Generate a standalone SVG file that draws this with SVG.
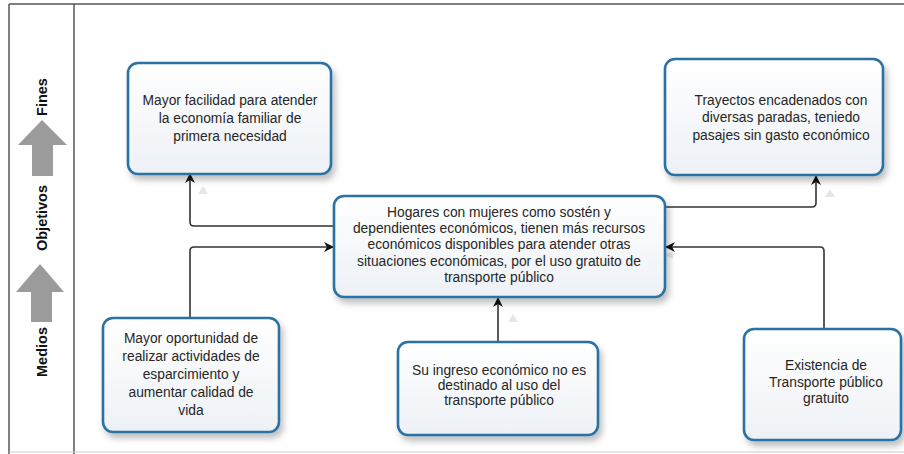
<svg xmlns="http://www.w3.org/2000/svg" width="904" height="454" viewBox="0 0 904 454">
<defs>
<style>
.box{fill:url(#g);stroke:#2b72a3;stroke-width:2.6;filter:url(#sh)}
.t{font-family:"Liberation Sans",Arial,sans-serif;font-size:13.8px;fill:#262626;text-anchor:middle}
.side{font-family:"Liberation Sans",Arial,sans-serif;font-size:14.5px;font-weight:bold;fill:#111;text-anchor:middle}
.c{fill:none;stroke:#333;stroke-width:1.6}
.ghost{fill:#e3e7ec}
.big{fill:#9b9b9b}
</style>
<linearGradient id="g" x1="0" y1="0" x2="0" y2="1">
<stop offset="0" stop-color="#ffffff"/>
<stop offset="1" stop-color="#edf1f6"/>
</linearGradient>
<filter id="sh" x="-10%" y="-10%" width="125%" height="135%">
<feDropShadow dx="3" dy="5" stdDeviation="3" flood-color="#000" flood-opacity="0.25"/>
</filter>
<marker id="ah" viewBox="0 0 10 10" refX="9" refY="5" markerWidth="10" markerHeight="10" markerUnits="userSpaceOnUse" orient="auto">
<path d="M0,0 L10,5 L0,10 L3,5 Z" fill="#111"/>
</marker>
</defs>
<rect width="904" height="454" fill="#fff"/>
<g id="frame">
<line x1="9" y1="4" x2="904" y2="4" stroke="#555" stroke-width="1.5"/>
<line x1="9" y1="4" x2="9" y2="454" stroke="#555" stroke-width="1.5"/>
<line x1="74" y1="4" x2="74" y2="454" stroke="#555" stroke-width="1.5"/>
<line x1="9" y1="452" x2="904" y2="452" stroke="#ccc" stroke-width="1"/>
</g>
<g id="side">
<text class="side" transform="translate(47,97) rotate(-90)">Fines</text>
<polygon class="big" points="42,120 67,145 53,145 53,176 32,176 32,145 18,145"/>
<text class="side" transform="translate(47,218) rotate(-90)">Objetivos</text>
<polygon class="big" points="40,264 64,292 52,292 52,322 31,322 31,292 16,292"/>
<text class="side" transform="translate(47,352) rotate(-90)">Medios</text>
</g>
<g id="connectors">
<polygon class="ghost" points="203,186 208,194 198,194"/>
<polygon class="ghost" points="830,189 835,197 825,197"/>
<polygon class="ghost" points="513,314 518,322 508,322"/>
<polygon class="ghost" points="665,255 673,251 673,259"/>
<path class="c" d="M334,226 H194 Q190,226 190,222 V174" marker-end="url(#ah)"/>
<path class="c" d="M190,318 V251 Q190,247 194,247 H333" marker-end="url(#ah)"/>
<path class="c" d="M665,207 H812 Q816,207 816,203 V176" marker-end="url(#ah)"/>
<path class="c" d="M824,329 V251 Q824,247 820,247 H666" marker-end="url(#ah)"/>
<path class="c" d="M498,342 V298" marker-end="url(#ah)"/>
</g>
<g id="n1">
<rect class="box" x="128" y="63" width="203" height="111" rx="10"/>
<text class="t" x="230" y="105">Mayor facilidad para atender</text>
<text class="t" x="230" y="123">la economía familiar de</text>
<text class="t" x="230" y="141">primera necesidad</text>
</g>
<g id="n2">
<rect class="box" x="665" y="59" width="218" height="116" rx="10"/>
<text class="t" x="781" y="105">Trayectos encadenados con</text>
<text class="t" x="781" y="122">diversas paradas, teniedo</text>
<text class="t" x="781" y="140">pasajes sin gasto económico</text>
</g>
<g id="n3">
<rect class="box" x="334" y="196" width="331" height="101" rx="10"/>
<text class="t" x="499" y="217">Hogares con mujeres como sostén y</text>
<text class="t" x="499" y="233">dependientes económicos, tienen más recursos</text>
<text class="t" x="499" y="249">económicos disponibles para atender otras</text>
<text class="t" x="499" y="266">situaciones económicas, por el uso gratuito de</text>
<text class="t" x="499" y="282">transporte público</text>
</g>
<g id="n4">
<rect class="box" x="103" y="318" width="176" height="114" rx="10"/>
<text class="t" x="191" y="343">Mayor oportunidad de</text>
<text class="t" x="191" y="361">realizar actividades de</text>
<text class="t" x="191" y="379">esparcimiento y</text>
<text class="t" x="191" y="397">aumentar calidad de</text>
<text class="t" x="191" y="415">vida</text>
</g>
<g id="n5">
<rect class="box" x="398" y="342" width="200" height="93" rx="10"/>
<text class="t" x="499" y="375">Su ingreso económico no es</text>
<text class="t" x="499" y="390">destinado al uso del</text>
<text class="t" x="499" y="405">transporte público</text>
</g>
<g id="n6">
<rect class="box" x="744" y="329" width="157" height="111" rx="10"/>
<text class="t" x="826" y="370">Existencia de</text>
<text class="t" x="826" y="387">Transporte público</text>
<text class="t" x="826" y="403">gratuito</text>
</g>
</svg>
